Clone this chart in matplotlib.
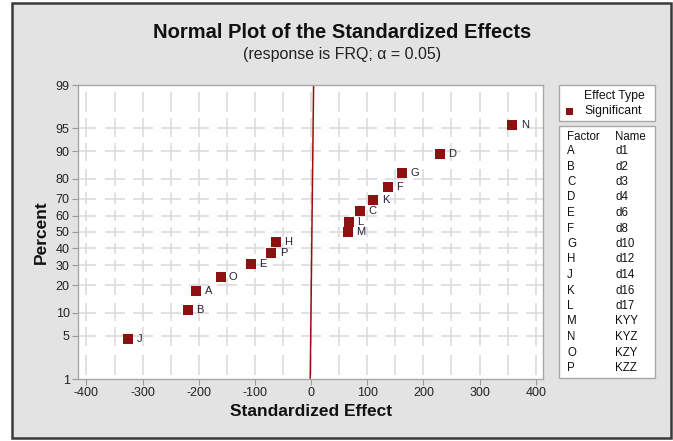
import statistics
import matplotlib
matplotlib.use("Agg")
import matplotlib.pyplot as plt
from matplotlib.patches import Rectangle

plt.rcParams['font.family'] = ['Liberation Sans', 'DejaVu Sans']

# ---- data ----
factors = ['J', 'B', 'A', 'O', 'E', 'P', 'H', 'M', 'L', 'C', 'K', 'F', 'G', 'D', 'N']
effects = [-326, -220, -204, -161, -107, -70.5, -62, 66, 68, 86.5, 111, 137, 162, 229, 358.5]
percents = [4.5, 11.0, 17.5, 24.0, 30.5, 37.0, 43.5, 50.0, 56.5, 63.0, 69.5, 76.0, 82.5, 89.0, 95.5]

ref_x = [-1.5, 4.5]
ref_pct = [1, 99]

y_ticks = [1, 5, 10, 20, 30, 40, 50, 60, 70, 80, 90, 95, 99]
x_ticks = [-400, -300, -200, -100, 0, 100, 200, 300, 400]
x_grid = [-400, -350, -300, -250, -200, -150, -100, -50, 0, 50, 100, 150, 200, 250, 300, 350, 400]

legend_factors = ['A', 'B', 'C', 'D', 'E', 'F', 'G', 'H', 'J', 'K', 'L', 'M', 'N', 'O', 'P']
legend_names = ['d1', 'd2', 'd3', 'd4', 'd6', 'd8', 'd10', 'd12', 'd14', 'd16', 'd17',
                'KYY', 'KYZ', 'KZY', 'KZZ']

nd = statistics.NormalDist()
def z(p):
    return nd.inv_cdf(p / 100.0)

W, H = 673, 441
fig = plt.figure(figsize=(W / 100, H / 100), dpi=100)
fig.patch.set_facecolor('white')

def fx(px):
    return px / W
def fy(py):
    return 1 - py / H

# outer frame
fig.patches.append(Rectangle((fx(12), fy(438)), fx(671) - fx(12), fy(3) - fy(438),
                             transform=fig.transFigure, facecolor='#e3e3e3',
                             edgecolor='#3a3a3a', linewidth=1.8, zorder=-5))

ax_l, ax_r, ax_t, ax_b = 78, 543, 85, 379
ax = fig.add_axes([fx(ax_l), fy(ax_b), fx(ax_r) - fx(ax_l), fy(ax_t) - fy(ax_b)])
ax.set_facecolor('white')

xmin, xmax = -415, 413
ymin, ymax = z(1), z(99)
ax.set_xlim(xmin, xmax)
ax.set_ylim(ymin, ymax)

# grid in cross style
px_per_x = (ax_r - ax_l) / (xmax - xmin)
px_per_z = (ax_b - ax_t) / (ymax - ymin)
gcol = '#dcdcdc'
glw = 1.2
hx = 10 / px_per_x
yz = [z(t) for t in y_ticks]
for t in yz[1:-1]:
    for xv in x_grid:
        ax.plot([max(xv - hx, xmin), min(xv + hx, xmax)], [t, t], color=gcol, lw=glw,
                zorder=1, solid_capstyle='butt')
for xv in x_grid:
    for i in range(len(yz) - 1):
        a, b = yz[i], yz[i + 1]
        gap_px = (b - a) * px_per_z
        arm = min(10, gap_px / 2 - 3) / px_per_z
        if i > 0:
            ax.plot([xv, xv], [a, a + arm], color=gcol, lw=glw, zorder=1, solid_capstyle='butt')
        if i < len(yz) - 2:
            ax.plot([xv, xv], [b - arm, b], color=gcol, lw=glw, zorder=1, solid_capstyle='butt')
        lo = a + (arm + 6 / px_per_z if i > 0 else 4 / px_per_z)
        hi = b - (arm + 6 / px_per_z if i < len(yz) - 2 else 4 / px_per_z)
        while hi - lo > 8 / px_per_z:
            seg_hi = min(lo + 20 / px_per_z, hi)
            ax.plot([xv, xv], [lo, seg_hi], color=gcol, lw=glw, zorder=1, solid_capstyle='butt')
            lo = seg_hi + 8 / px_per_z

# reference line
ax.plot(ref_x, [z(p) for p in ref_pct], color='#9a1010', lw=1.1, zorder=2)

# points
mcol = '#8c1212'
ax.plot(effects, [z(p) for p in percents], linestyle='none', marker='s', markersize=6.6,
        markeredgewidth=0, color=mcol, zorder=3)
for f, x, p in zip(factors, effects, percents):
    ax.annotate(f, (x, z(p)), xytext=(6, 0), textcoords='offset points', va='center',
                ha='left', fontsize=8, color='#22223a', zorder=4)

ax.set_xticks(x_ticks)
ax.set_xticklabels([str(v) for v in x_ticks])
ax.set_yticks(yz)
ax.set_yticklabels([str(v) for v in y_ticks])
ax.tick_params(axis='both', labelsize=9, colors='#222222', length=4, width=0.8,
               color='#999999', pad=2)
for s in ax.spines.values():
    s.set_color('#a8a8a8')
    s.set_linewidth(1.0)

# titles
fig.text(fx(342), fy(33), 'Normal Plot of the Standardized Effects', ha='center', va='center',
         fontsize=14.5, fontweight='bold', color='#111111')
fig.text(fx(342), fy(55), '(response is FRQ; \u03b1 = 0.05)', ha='center', va='center',
         fontsize=11.5, color='#222222')
fig.text(fx(311), fy(412), 'Standardized Effect', ha='center', va='center',
         fontsize=12.5, fontweight='bold', color='#111111')
fig.text(fx(41), fy(232), 'Percent', ha='center', va='center', rotation=90,
         fontsize=12.5, fontweight='bold', color='#111111')

# legend boxes
fig.patches.append(Rectangle((fx(559), fy(121)), fx(655) - fx(559), fy(85) - fy(121),
                             transform=fig.transFigure, facecolor='white',
                             edgecolor='#a8a8a8', linewidth=1.0, zorder=1))
fig.patches.append(Rectangle((fx(559), fy(378)), fx(655) - fx(559), fy(126) - fy(378),
                             transform=fig.transFigure, facecolor='white',
                             edgecolor='#a8a8a8', linewidth=1.0, zorder=1))
fig.text(fx(584), fy(96), 'Effect Type', fontsize=8.8, va='center', ha='left', color='#111111')
fig.text(fx(584), fy(111), 'Significant', fontsize=8.8, va='center', ha='left', color='#111111')
fig.patches.append(Rectangle((fx(566), fy(115)), 7 / W, 7 / H, transform=fig.transFigure,
                             facecolor=mcol, edgecolor='none', zorder=2))

tfs = 8.3
fig.text(fx(567), fy(137), 'Factor', fontsize=tfs, va='center', ha='left', color='#111111')
fig.text(fx(615), fy(137), 'Name', fontsize=tfs, va='center', ha='left', color='#111111')
row0, dy = 151, (368 - 151) / 14
for i, (f, n) in enumerate(zip(legend_factors, legend_names)):
    yy = row0 + i * dy
    fig.text(fx(567), fy(yy), f, fontsize=tfs, va='center', ha='left', color='#111111')
    fig.text(fx(615), fy(yy), n, fontsize=tfs, va='center', ha='left', color='#111111')

fig.savefig('out.png', dpi=100)
